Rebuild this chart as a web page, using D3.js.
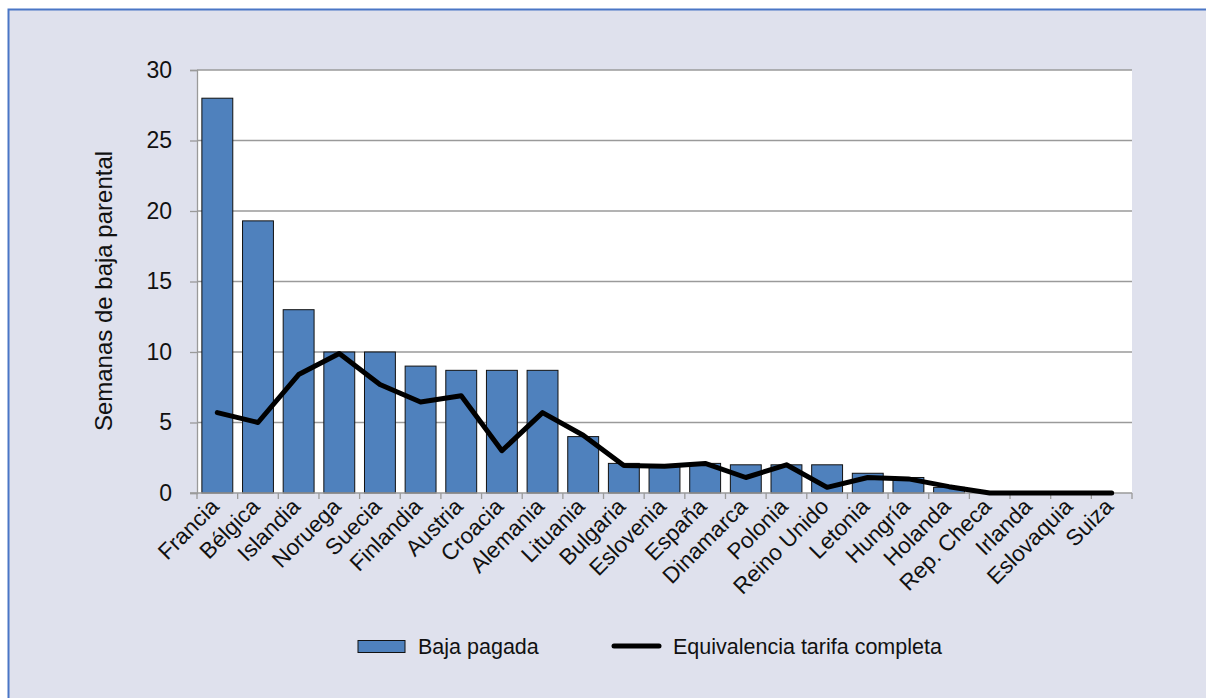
<!DOCTYPE html>
<html>
<head>
<meta charset="utf-8">
<script src="https://cdn.jsdelivr.net/npm/d3@7"></script>
<style>
  body { margin: 0; background: #ffffff; }
  svg { display: block; font-family: "Liberation Sans", Arial, Helvetica, sans-serif; }
</style>
</head>
<body>
<svg id="chart" width="1206" height="698"></svg>
<script>
// categories and series
var paises = ["Francia","Bélgica","Islandia","Noruega","Suecia","Finlandia","Austria","Croacia","Alemania","Lituania","Bulgaria","Eslovenia","España","Dinamarca","Polonia","Reino Unido","Letonia","Hungría","Holanda","Rep. Checa","Irlanda","Eslovaquia","Suiza"];
var bajaPagada = [28, 19.3, 13, 10, 10, 9, 8.7, 8.7, 8.7, 4, 2.1, 2, 2.1, 2, 2, 2, 1.4, 1.1, 0.4, 0, 0, 0, 0];
var equivalencia = [5.7, 5.0, 8.4, 9.9, 7.7, 6.45, 6.9, 3.0, 5.7, 4.1, 1.95, 1.9, 2.1, 1.1, 2.0, 0.4, 1.1, 1.0, 0.45, 0, 0, 0, 0];
var yTicks = [0, 5, 10, 15, 20, 25, 30];
var series = ["Baja pagada", "Equivalencia tarifa completa"];
var tituloY = "Semanas de baja parental";

var svg = d3.select("#chart");

var margin = {top: 70, left: 197, right: 1132, bottom: 493};

// panel background with blue frame
svg.append("rect")
    .attr("x", 8.5).attr("y", 9.5)
    .attr("width", 1220).attr("height", 720)
    .attr("fill", "#dfe1ed")
    .attr("stroke", "#4a76c6")
    .attr("stroke-width", 2);

// plot area
svg.append("rect")
    .attr("x", margin.left).attr("y", margin.top)
    .attr("width", margin.right - margin.left)
    .attr("height", margin.bottom - margin.top)
    .attr("fill", "#ffffff");

var x = d3.scaleBand()
    .domain(paises)
    .range([margin.left, margin.right])
    .paddingInner(0.24)
    .paddingOuter(0.12);

var y = d3.scaleLinear()
    .domain([0, 30])
    .range([margin.bottom, margin.top]);

// gridlines
svg.append("g").selectAll("line")
    .data(yTicks.filter(function(d){ return d > 0; }))
    .enter().append("line")
    .attr("x1", margin.left).attr("x2", margin.right)
    .attr("y1", function(d){ return y(d); })
    .attr("y2", function(d){ return y(d); })
    .attr("stroke", "#9a9a9a")
    .attr("stroke-width", 1.3);

// bars
var datos = paises.map(function(p, i){ return {pais: p, baja: bajaPagada[i], equi: equivalencia[i]}; });

svg.append("g").selectAll("rect")
    .data(datos.filter(function(d){ return d.baja > 0; }))
    .enter().append("rect")
    .attr("x", function(d){ return x(d.pais); })
    .attr("y", function(d){ return y(d.baja); })
    .attr("width", x.bandwidth())
    .attr("height", function(d){ return y(0) - y(d.baja); })
    .attr("fill", "#4f81bd")
    .attr("stroke", "#111111")
    .attr("stroke-width", 1);

// y axis
var yAxis = svg.append("g")
    .attr("transform", "translate(" + margin.left + ",0)")
    .call(d3.axisLeft(y).tickValues(yTicks).tickSize(7).tickPadding(18));
yAxis.select(".domain").attr("stroke", "#9a9a9a").attr("stroke-width", 1.3);
yAxis.selectAll(".tick line").attr("stroke", "#9a9a9a").attr("stroke-width", 1.3);
yAxis.selectAll("text")
    .attr("fill", "#111")
    .style("font-size", "23px")
    .style("font-family", "Liberation Sans, Arial, sans-serif");

// x axis: ticks at the band edges
var bordes = d3.range(paises.length + 1).map(function(i){ return margin.left + i * x.step(); });
svg.append("line")
    .attr("x1", margin.left - 7).attr("x2", margin.right)
    .attr("y1", margin.bottom).attr("y2", margin.bottom)
    .attr("stroke", "#9a9a9a").attr("stroke-width", 1.3);
svg.append("g").selectAll("line")
    .data(bordes)
    .enter().append("line")
    .attr("x1", function(d){ return d; }).attr("x2", function(d){ return d; })
    .attr("y1", margin.bottom).attr("y2", margin.bottom + 6)
    .attr("stroke", "#9a9a9a").attr("stroke-width", 1.3);

// x labels, rotated
svg.append("g").selectAll("text")
    .data(paises)
    .enter().append("text")
    .attr("transform", function(d){
        return "translate(" + (x(d) + x.bandwidth() / 2 + 3) + "," + (margin.bottom + 15) + ") rotate(-45)";
    })
    .attr("text-anchor", "end")
    .attr("fill", "#111")
    .style("font-size", "22.5px")
    .text(function(d){ return d; });

// y title
svg.append("text")
    .attr("transform", "translate(112,291) rotate(-90)")
    .attr("text-anchor", "middle")
    .attr("fill", "#111")
    .style("font-size", "24px")
    .text(tituloY);

// line series
var linea = d3.line()
    .x(function(d){ return x(d.pais) + x.bandwidth() / 2; })
    .y(function(d){ return y(d.equi); });

svg.append("path")
    .datum(datos)
    .attr("d", linea)
    .attr("fill", "none")
    .attr("stroke", "#000")
    .attr("stroke-width", 5)
    .attr("stroke-linejoin", "round")
    .attr("stroke-linecap", "round");

// legend
var leg = svg.append("g");
leg.append("rect")
    .attr("x", 358).attr("y", 640.5)
    .attr("width", 47).attr("height", 12)
    .attr("fill", "#4f81bd")
    .attr("stroke", "#111").attr("stroke-width", 1);
leg.append("text")
    .attr("x", 418).attr("y", 654)
    .attr("fill", "#111")
    .style("font-size", "21.5px")
    .text(series[0]);
leg.append("line")
    .attr("x1", 614).attr("x2", 659)
    .attr("y1", 646).attr("y2", 646)
    .attr("stroke", "#000").attr("stroke-width", 5)
    .attr("stroke-linecap", "round");
leg.append("text")
    .attr("x", 673).attr("y", 654)
    .attr("fill", "#111")
    .style("font-size", "21.5px")
    .text(series[1]);
</script>
</body>
</html>
